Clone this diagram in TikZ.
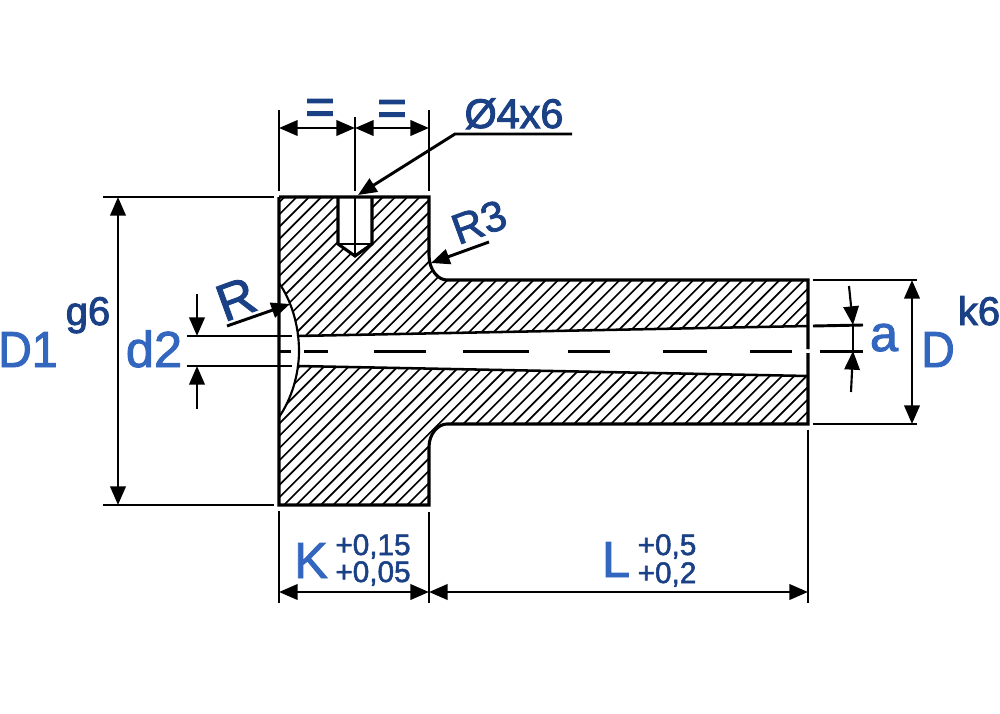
\documentclass[tikz,border=0pt]{standalone}
\usepackage{fontspec}
\setmainfont{Liberation Sans}
\newfontfamily\semif[FakeBold=1.8]{Liberation Sans}
\newfontfamily\narrowf[FakeBold=1.8,FakeStretch=0.92]{Liberation Sans}
\newfontfamily\heavyf[FakeBold=2.4]{Liberation Sans}
\usetikzlibrary{arrows.meta}
\definecolor{lightb}{HTML}{3366BF}
\definecolor{darkb}{HTML}{1A4085}
\tikzset{
 main/.style={line width=2.3pt,black},
 thin part/.style={line width=1.6pt,black},
 bore/.style={line width=1.9pt,black},
 centre/.style={line width=2.3pt,black},
 hatchline/.style={line width=1.25pt,black},
 dim/.style={line width=2.2pt,black,{Triangle[length=14pt,width=11.5pt]}-{Triangle[length=14pt,width=11.5pt]}},
 dimend/.style={line width=2.2pt,black,-{Triangle[length=14pt,width=11.5pt]}},
 ext/.style={line width=2.2pt,black},
 big/.style={text=lightb,inner sep=0pt,anchor=base,font=\fontsize{38}{38}\selectfont\semif},
 mid/.style={text=darkb,inner sep=0pt,anchor=base,font=\fontsize{30}{30}\selectfont\heavyf},
 tol/.style={text=darkb,inner sep=0pt,anchor=base,font=\fontsize{22.3}{22.3}\selectfont\semif},
}
\begin{document}
\begin{tikzpicture}[x=0.75pt,y=-0.75pt]
\useasboundingbox (0,0) rectangle (1000,714);
% hatching
\begin{scope}
\clip (279,197) -- (429,197) -- (429,255) .. controls (429,270) and (438,280) .. (447,280) -- (808,280) -- (808,424) -- (447,424) .. controls (438,424) and (429,434) .. (429,447) -- (429,505) -- (279,505) -- cycle;
\foreach \k in {-30,...,50} {
  \draw[hatchline] ({279+\k*12.3-10},520) -- ({279+\k*12.3-10+340},180);
}
\end{scope}
% bore, face and hole cleared
\fill[white] (279,283) .. controls (291,300) and (299,325) .. (299,351) .. controls (299,375) and (291,400) .. (279,417) -- cycle;
\fill[white] (297,336) -- (808,326) -- (808,376) -- (297,366) -- cycle;
\fill[white] (338,197) -- (372,197) -- (372,244) -- (355,256) -- (338,244) -- cycle;
% outline
\draw[main] (279,197) -- (429,197) -- (429,255) .. controls (429,270) and (438,280) .. (447,280) -- (808,280) -- (808,349);
\draw[main] (808,353) -- (808,424) -- (447,424) .. controls (438,424) and (429,434) .. (429,447) -- (429,505) -- (279,505) -- (279,197);
\draw[thin part] (279,283) .. controls (291,300) and (299,325) .. (299,351) .. controls (299,375) and (291,400) .. (279,417);
\draw[bore] (297,336) -- (808,326);
\draw[bore] (297,366) -- (808,376);
\draw[main] (338,197) -- (338,244) -- (355,256) -- (372,244) -- (372,197);
\draw[thin part] (338,244) -- (372,244);
\draw[thin part] (355,197) -- (355,256);
% centre line
\draw[centre] (280,351.5) -- (291,351.5);
\draw[centre] (304,351.5) -- (328,351.5);
\draw[centre] (374,351.5) -- (426,351.5);
\draw[centre] (463,351.5) -- (529,351.5);
\draw[centre] (568,351.5) -- (610,351.5);
\draw[centre] (663,351.5) -- (707,351.5);
\draw[centre] (750,351.5) -- (792,351.5);
\draw[centre] (820,351.5) -- (863,351.5);
% extension lines
\draw[ext] (279,110) -- (279,191);
\draw[ext] (355,117) -- (355,191);
\draw[ext] (429,110) -- (429,191);
\draw[ext] (103,197) -- (274,197);
\draw[ext] (103,505) -- (274,505);
\draw[ext] (187,336) -- (292,336);
\draw[ext] (187,366) -- (292,366);
\draw[ext] (813,280) -- (917,280);
\draw[ext] (813,424) -- (917,424);
\draw[ext] (813,326) -- (863,325);
\draw[ext] (279,511) -- (279,603);
\draw[ext] (429,512) -- (429,603);
\draw[ext] (808,430) -- (808,603);
% dimensions
\draw[dim] (279,128) -- (355,128);
\draw[dim] (355,128) -- (429,128);
\draw[dim] (118,197) -- (118,505);
\draw[dim] (912,280) -- (912,424);
\draw[dim] (279,592) -- (429,592);
\draw[dim] (429,592) -- (808,592);
\draw[dimend] (197,294) -- (197,336);
\draw[dimend] (197,409) -- (197,366);
\draw[dimend,line width=1.6pt] (849,286) -- (853,325);
\draw[dimend,line width=1.6pt] (851,392) -- (853,351);
\draw[thin part] (853,325) -- (853,351);
% leaders
\draw[dimend] (572,134) -- (455,134) -- (358,195);
\draw[dimend] (227,326) -- (290,304);
\draw[dimend] (489,242) -- (431,263);
% texts
\node[mid,font=\fontsize{38}{38}\selectfont\heavyf] (eqa) at (320,124) {=};
\node[mid,font=\fontsize{38}{38}\selectfont\heavyf] (eqb) at (392,125) {=};
\node[mid,font=\fontsize{31}{31}\selectfont\heavyf] (hole) at (514,128) {Ø4x6};
\node[mid,anchor=center,font=\fontsize{39}{39}\selectfont\semif,rotate=20] (r) at (236,299) {R};
\node[mid,anchor=center,font=\fontsize{32}{32}\selectfont\semif,rotate=20] (rthree) at (479,222) {R3};
\node[big,font=\fontsize{38}{38}\selectfont\narrowf] (done) at (28,367) {D1};
\node[mid,font=\fontsize{30}{30}\selectfont\heavyf] (gsix) at (88,325) {g6};
\node[big] (dtwo) at (154,367) {d2};
\node[big] (a) at (884,351) {a};
\node[big,font=\fontsize{38}{38}\selectfont\narrowf] (d) at (938,367) {D};
\node[mid,font=\fontsize{30}{30}\selectfont\heavyf] (ksix) at (979,325) {k6};
\node[big] (k) at (311,578) {K};
\node[big] (l) at (616,577) {L};
\node[tol] (ka) at (373,555) {+0,15};
\node[tol] (kb) at (373,582) {+0,05};
\node[tol] (la) at (667,555) {+0,5};
\node[tol] (lb) at (667,583) {+0,2};
\end{tikzpicture}
\end{document}
